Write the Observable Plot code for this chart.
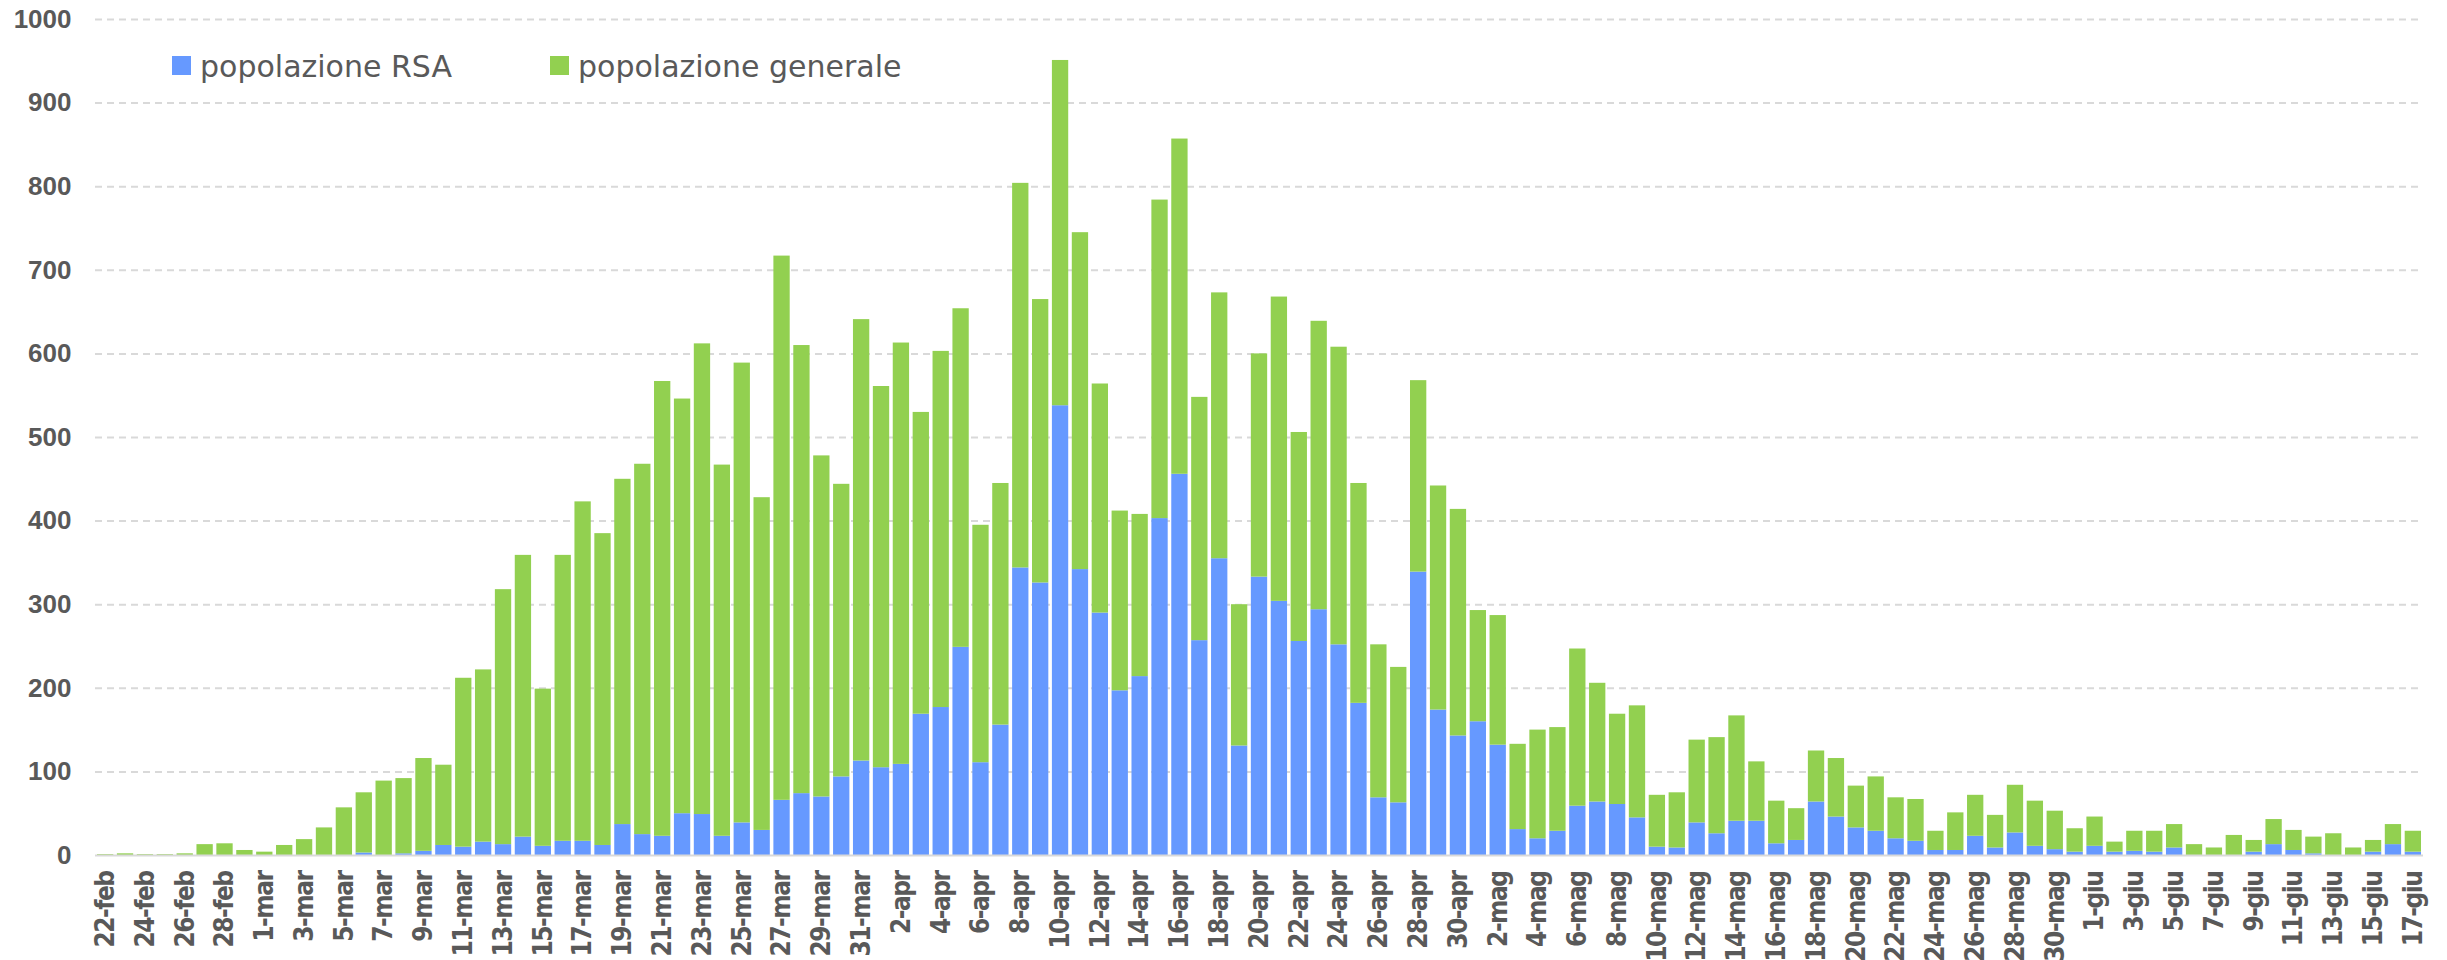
<!DOCTYPE html>
<html>
<head>
<meta charset="utf-8">
<script src="https://cdn.jsdelivr.net/npm/d3@7"></script>
<script src="https://cdn.jsdelivr.net/npm/@observablehq/plot@0.6"></script>
<style>
  html, body { margin: 0; padding: 0; background: #fff; overflow: hidden; }
  #wrap { position: relative; width: 2447px; height: 960px; }
  .sw { position: absolute; width: 19px; height: 19px; }
  .lt { position: absolute; font-family: "DejaVu Sans", sans-serif; font-size: 30px; line-height: 30px; color: #595959; white-space: nowrap; }
  g[aria-label="y-axis tick label"] text { font-family: "Liberation Sans", Arial, sans-serif; font-weight: bold; fill: #595959; }
  g[aria-label="x-axis tick label"] text { font-family: "DejaVu Sans Condensed", "DejaVu Sans", sans-serif; font-weight: bold; fill: #595959; letter-spacing: -1.5px; }
</style>
</head>
<body>
<div id="wrap"><div id="chart"></div></div>
<script>
const dates = [
  "22-feb","23-feb","24-feb","25-feb","26-feb","27-feb","28-feb","29-feb",
  "1-mar","2-mar","3-mar","4-mar","5-mar","6-mar","7-mar","8-mar","9-mar","10-mar",
  "11-mar","12-mar","13-mar","14-mar","15-mar","16-mar","17-mar","18-mar","19-mar","20-mar",
  "21-mar","22-mar","23-mar","24-mar","25-mar","26-mar","27-mar","28-mar","29-mar","30-mar","31-mar",
  "1-apr","2-apr","3-apr","4-apr","5-apr","6-apr","7-apr","8-apr","9-apr","10-apr",
  "11-apr","12-apr","13-apr","14-apr","15-apr","16-apr","17-apr","18-apr","19-apr","20-apr",
  "21-apr","22-apr","23-apr","24-apr","25-apr","26-apr","27-apr","28-apr","29-apr","30-apr",
  "1-mag","2-mag","3-mag","4-mag","5-mag","6-mag","7-mag","8-mag","9-mag","10-mag",
  "11-mag","12-mag","13-mag","14-mag","15-mag","16-mag","17-mag","18-mag","19-mag","20-mag",
  "21-mag","22-mag","23-mag","24-mag","25-mag","26-mag","27-mag","28-mag","29-mag","30-mag","31-mag",
  "1-giu","2-giu","3-giu","4-giu","5-giu","6-giu","7-giu","8-giu","9-giu","10-giu",
  "11-giu","12-giu","13-giu","14-giu","15-giu","16-giu","17-giu"
];

const rsa = [
  0,0,0,0,0,0,0,0,
  0,0,0,0,0,3,0,2,5,12, 10,16,13,22,11,17,17,12,37,25, 23,50,49,23,39,30,66,74,70,94,113,
  105,109,169,177,249,111,156,344,326,538, 342,290,197,214,403,456,257,355,131,333, 304,256,294,252,182,69,63,339,174,143,
  160,132,31,20,29,59,64,61,45,10, 9,39,26,41,41,14,18,64,46,33, 29,20,17,6,6,23,9,27,11,7,4,
  11,4,5,4,9,0,0,0,4,13, 6,2,0,0,4,13,4
];

const generale = [
  1,2,1,1,2,13,14,6,
  4,12,19,33,57,72,89,90,111,96, 202,206,305,337,188,342,406,373,413,443, 544,496,563,444,550,398,651,536,408,350,528,
  456,504,361,426,405,284,289,460,339,413, 403,274,215,194,381,401,291,318,169,267, 364,250,345,356,263,183,162,229,268,271,
  133,155,102,130,124,188,142,108,134,62, 66,99,115,126,71,51,38,61,70,50, 65,49,50,23,45,49,39,57,54,46,28,
  35,12,24,25,28,13,9,24,14,30, 24,20,26,9,14,24,25
];

const series = ["popolazione RSA", "popolazione generale"];
const colors = ["#6699FF", "#92D050"];
const yTicks = [0,100,200,300,400,500,600,700,800,900,1000];
const xTickLabels = dates.filter((d, i) => i % 2 === 0);

const table = dates.flatMap((d, i) => [
  {date: d, serie: series[0], value: rsa[i]},
  {date: d, serie: series[1], value: generale[i]}
]);

const chart = Plot.plot({
  width: 2447,
  height: 960,
  marginLeft: 95,
  marginRight: 24,
  marginTop: 19,
  marginBottom: 105,
  style: {background: "#fff", color: "#595959", overflow: "visible"},
  x: {type: "band", domain: dates, paddingInner: 0.18, paddingOuter: 0.1, label: null},
  y: {domain: [0, 1000], label: null},
  color: {domain: series, range: colors},
  marks: [
    Plot.ruleY(yTicks.filter(d => d > 0), {stroke: "#d9d9d9", strokeWidth: 2, strokeDasharray: "7,5"}),
    Plot.barY(table, {x: "date", y: "value", fill: "serie", order: series}),
    Plot.ruleY([0], {stroke: "#d9d9d9", strokeWidth: 2}),
    Plot.axisY({ticks: yTicks, tickSize: 0, tickPadding: 24, fontSize: 26, tickFormat: d => String(d), label: null}),
    Plot.axisX({ticks: xTickLabels, tickSize: 0, tickPadding: 16, tickRotate: -90, fontSize: 26, label: null})
  ]
});
const wrap = document.getElementById("wrap");
document.getElementById("chart").appendChild(chart);

// legend overlaid in the plot's top area
const legendPos = [{sw: 172, tx: 200}, {sw: 550, tx: 578}];
series.forEach((s, i) => {
  const sw = document.createElement("div");
  sw.className = "sw";
  sw.style.left = legendPos[i].sw + "px";
  sw.style.top = "56px";
  sw.style.background = colors[i];
  wrap.appendChild(sw);
  const t = document.createElement("div");
  t.className = "lt";
  t.style.left = legendPos[i].tx + "px";
  t.style.top = "52px";
  t.textContent = s;
  wrap.appendChild(t);
});
</script>
</body>
</html>
